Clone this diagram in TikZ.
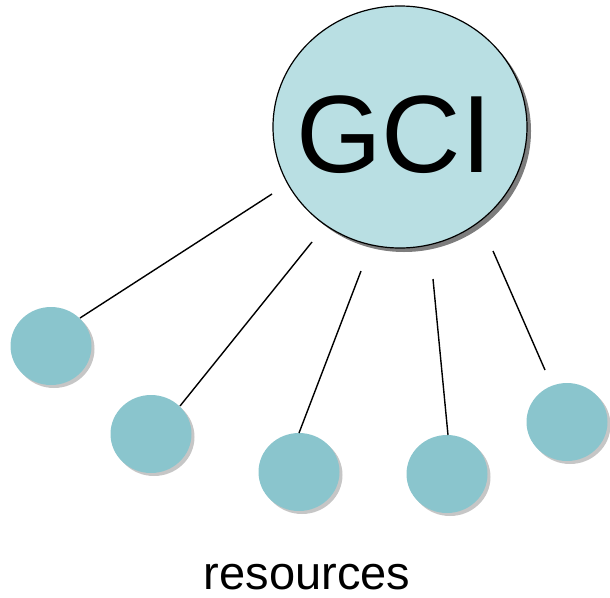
\documentclass[tikz,border=0pt]{standalone}
\usepackage{fontspec}
\setmainfont{Liberation Sans}
\usetikzlibrary{shapes.geometric,shadows}
\definecolor{bigfill}{HTML}{B9DFE3}
\definecolor{smallfill}{HTML}{8AC5CD}
\tikzset{
  bigres/.style={ellipse, draw=black, line width=1.2pt, fill=bigfill, minimum width=254pt, minimum height=242pt, inner sep=0pt,
    drop shadow={shadow xshift=4pt, shadow yshift=-4pt, fill=black!60, opacity=0.85}},
  res/.style={ellipse, fill=smallfill, minimum width=81pt, minimum height=78pt, inner sep=0pt,
    drop shadow={shadow xshift=3pt, shadow yshift=-3pt, fill=black!50, opacity=0.45}},
  link/.style={draw=black, line width=1.4pt}
}
\begin{document}
\begin{tikzpicture}[x=1pt,y=-1pt]
\useasboundingbox (0,0) rectangle (610,597);
\node[bigres] (gci) at (400,127) {};
\node[font=\fontsize{110}{110}\selectfont, inner sep=0pt, anchor=base] (gcitext) at (394,172) {GCI};
\node[res] (r1) at (51,346) {};
\node[res] (r2) at (151,434) {};
\node[res] (r3) at (299,472) {};
\node[res] (r4) at (447,474) {};
\node[res] (r5) at (567,422) {};
\coordinate (s1) at (272,194);
\coordinate (e1) at (80,318);
\coordinate (s2) at (312,242);
\coordinate (e2) at (180,406);
\coordinate (s3) at (361,271);
\coordinate (e3) at (299,433);
\coordinate (s4) at (433,279);
\coordinate (e4) at (448,435);
\coordinate (s5) at (493,251);
\coordinate (e5) at (545,370);
\draw[link] (s1) -- (e1);
\draw[link] (s2) -- (e2);
\draw[link] (s3) -- (e3);
\draw[link] (s4) -- (e4);
\draw[link] (s5) -- (e5);
\node[font=\fontsize{47}{47}\selectfont, inner sep=0pt, text depth=0pt, anchor=base] (lbl) at (307,589) {resources};
\end{tikzpicture}
\end{document}
